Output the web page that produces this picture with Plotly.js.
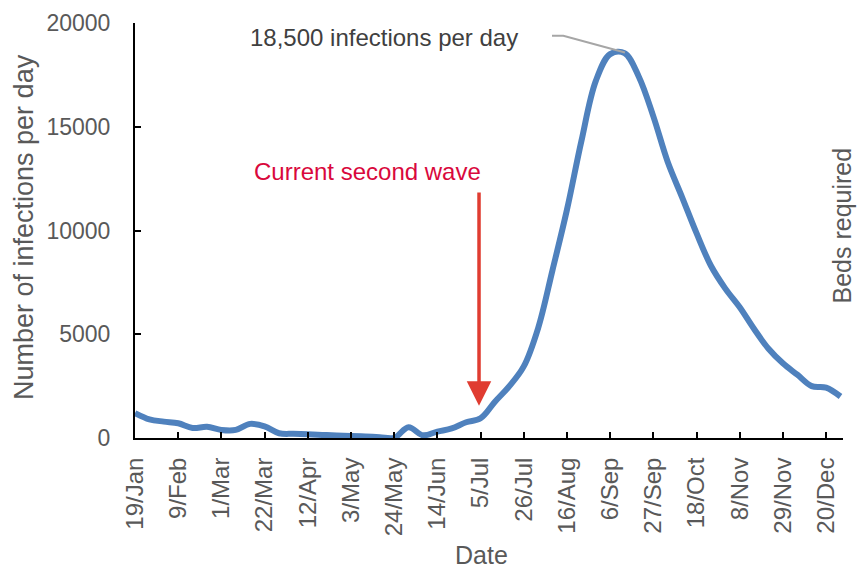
<!DOCTYPE html>
<html>
<head>
<meta charset="utf-8">
<script src="https://cdn.plot.ly/plotly-3.0.1.min.js"></script>
<style>
  html, body { margin: 0; padding: 0; background: #fff; }
  #chart { width: 858px; height: 571px; }
</style>
</head>
<body>
<div id="chart"></div>
<script>
// Weekly dates (2020)
const dates = [
  '2020-01-19','2020-01-26','2020-02-02','2020-02-09','2020-02-16','2020-02-23',
  '2020-03-01','2020-03-08','2020-03-15','2020-03-22','2020-03-29','2020-04-05',
  '2020-04-12','2020-04-19','2020-04-26','2020-05-03','2020-05-10','2020-05-17',
  '2020-05-24','2020-05-31','2020-06-07','2020-06-14','2020-06-21','2020-06-28',
  '2020-07-05','2020-07-12','2020-07-19','2020-07-26','2020-08-02','2020-08-09',
  '2020-08-16','2020-08-23','2020-08-30','2020-09-06','2020-09-13','2020-09-20',
  '2020-09-27','2020-10-04','2020-10-11','2020-10-18','2020-10-25','2020-11-01',
  '2020-11-08','2020-11-15','2020-11-22','2020-11-29','2020-12-06','2020-12-13',
  '2020-12-20','2020-12-27'
];
// Infections per day
const infections = [
  1200, 900, 790, 710, 480, 540,
  390, 390, 680, 560, 230, 200,
  180, 150, 120, 100, 70, 40,
  10, 520, 130, 310, 460, 760,
  950, 1750, 2500, 3450, 5300, 8100,
  11000, 14300, 17200, 18500, 18550, 17400,
  15500, 13300, 11600, 9870, 8300, 7200,
  6300, 5250, 4300, 3600, 3050, 2500,
  2430, 2000
];
// X tick labels (every 3 weeks)
const tickDates = [
  '2020-01-19','2020-02-09','2020-03-01','2020-03-22','2020-04-12','2020-05-03',
  '2020-05-24','2020-06-14','2020-07-05','2020-07-26','2020-08-16','2020-09-06',
  '2020-09-27','2020-10-18','2020-11-08','2020-11-29','2020-12-20'
];
const tickLabels = [
  '19/Jan','9/Feb','1/Mar','22/Mar','12/Apr','3/May','24/May','14/Jun','5/Jul',
  '26/Jul','16/Aug','6/Sep','27/Sep','18/Oct','8/Nov','29/Nov','20/Dec'
];
const yTicks = [0, 5000, 10000, 15000, 20000];

// Arrow for "Current second wave"
const arrowTip = {date: '2020-07-04 06:00', value: 1550};
const arrowTail = {date: '2020-07-04 06:00', value: 11900};

const FONT = '"Liberation Sans", Arial, sans-serif';
const GREY = '#595959';

const trace = {
  type: 'scatter',
  mode: 'lines',
  x: dates,
  y: infections,
  line: {color: '#4f81bd', width: 6, shape: 'spline', smoothing: 1},
  hoverinfo: 'skip'
};

const layout = {
  width: 858,
  height: 571,
  margin: {l: 135, r: 15, t: 23, b: 133, pad: 0},
  paper_bgcolor: '#ffffff',
  plot_bgcolor: '#ffffff',
  showlegend: false,
  font: {family: FONT, color: GREY},
  xaxis: {
    type: 'date',
    range: ['2020-01-19', '2020-12-28 05:00'],
    tickmode: 'array',
    tickvals: tickDates,
    ticktext: tickLabels,
    tickangle: -90,
    tickfont: {family: FONT, size: 24, color: GREY},
    ticks: 'inside',
    ticklen: 6,
    tickwidth: 2,
    tickcolor: '#000000',
    showline: true,
    linecolor: '#000000',
    linewidth: 2,
    showgrid: false,
    zeroline: false,
    automargin: false,
    ticklabelstandoff: 8
  },
  yaxis: {
    range: [0, 20000],
    tickmode: 'array',
    tickvals: yTicks,
    ticktext: yTicks.map(String),
    tickfont: {family: FONT, size: 23, color: GREY},
    ticks: 'inside',
    ticklen: 6,
    tickwidth: 2,
    tickcolor: '#000000',
    showline: true,
    linecolor: '#000000',
    linewidth: 2,
    showgrid: false,
    zeroline: false,
    automargin: false,
    ticklabelstandoff: 18
  },
  shapes: [
    {
      type: 'path',
      xref: 'paper', yref: 'paper',
      path: 'M0.589,0.969 L0.605,0.969 L0.692,0.929',
      line: {color: '#a6a6a6', width: 2}
    }
  ],
  annotations: [
    {
      xref: 'paper', yref: 'paper', x: 0.490, y: -0.282,
      xanchor: 'center', yanchor: 'middle',
      text: 'Date', showarrow: false,
      font: {family: FONT, size: 25, color: GREY}
    },
    {
      xref: 'paper', yref: 'paper', x: -0.157, y: 0.508,
      xanchor: 'center', yanchor: 'middle', textangle: -90,
      text: 'Number of infections per day', showarrow: false,
      font: {family: FONT, size: 27, color: GREY}
    },
    {
      xref: 'paper', yref: 'paper', x: 0.998, y: 0.511,
      xanchor: 'center', yanchor: 'middle', textangle: -90,
      text: 'Beds required', showarrow: false,
      font: {family: FONT, size: 25, color: GREY}
    },
    {
      xref: 'paper', yref: 'paper', x: 0.352, y: 0.964,
      xanchor: 'center', yanchor: 'middle',
      text: '18,500 infections per day', showarrow: false,
      font: {family: FONT, size: 24, color: '#404040'}
    },
    {
      xref: 'paper', yref: 'paper', x: 0.328, y: 0.641,
      xanchor: 'center', yanchor: 'middle',
      text: 'Current second wave', showarrow: false,
      font: {family: FONT, size: 24, color: '#d9083c'}
    },
    {
      xref: 'x', yref: 'y',
      x: arrowTip.date, y: arrowTip.value,
      axref: 'x', ayref: 'y',
      ax: arrowTail.date, ay: arrowTail.value,
      text: '', showarrow: true,
      arrowhead: 2, arrowsize: 1.4, arrowwidth: 3.5,
      arrowcolor: '#e03c31', standoff: 0, startstandoff: 0
    }
  ]
};

Plotly.newPlot('chart', [trace], layout, {displayModeBar: false, staticPlot: true});
</script>
</body>
</html>
